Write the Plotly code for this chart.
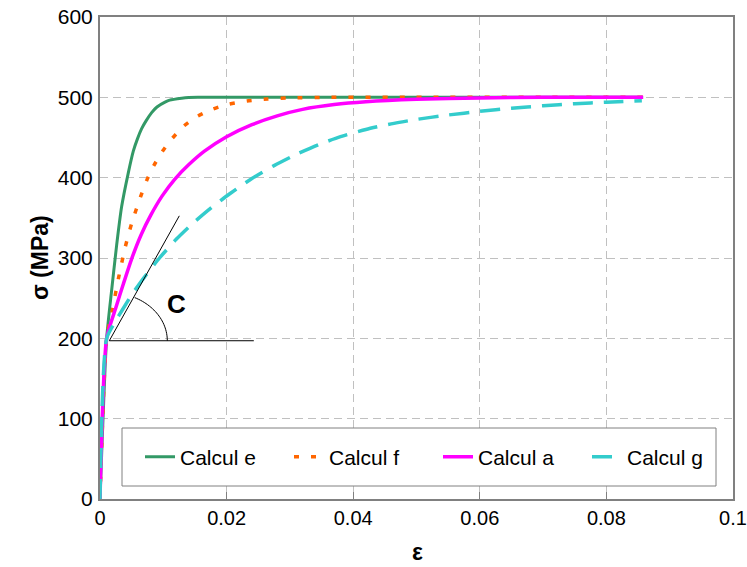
import numpy as np
import plotly.graph_objects as go

# ---- data ----
eps_e = [0, 0.00105, 0.00184, 0.00263, 0.00342, 0.00447, 0.00526, 0.0059, 0.00658, 0.0073, 0.00816, 0.0090, 0.01027, 0.0110, 0.0129, 0.0140, 0.0155, 0.02, 0.03, 0.04, 0.05, 0.06, 0.07, 0.08, 0.0858]
sig_e = [0, 200, 260, 316, 364, 406, 433, 448, 461, 471, 481, 488, 494, 496.5, 499, 499.8, 500, 500, 500, 500, 500, 500, 500, 500, 500]

eps_f = [0, 0.00105, 0.0019, 0.0029, 0.0040, 0.0050, 0.0064, 0.0074, 0.0085, 0.0098, 0.0111, 0.0132, 0.0153, 0.0177, 0.0201, 0.0232, 0.0265, 0.0300, 0.0360, 0.0500, 0.0700, 0.0858]
sig_f = [0, 200, 233, 274, 314, 343, 376, 397, 415, 432, 446, 464, 476, 485, 491, 495.5, 498, 499.3, 500, 500, 500, 500]

eps_a = [0, 0.00105, 0.0025, 0.0037, 0.0050, 0.0065, 0.0080, 0.0098, 0.0118, 0.0140, 0.0165, 0.0200, 0.0240, 0.0280, 0.0320, 0.0370, 0.0420, 0.0500, 0.0600, 0.0700, 0.0858]
sig_a = [0, 200, 238, 268, 299, 329, 353, 377, 398, 416, 433, 451, 466, 477, 485, 491, 494.5, 497.5, 499.3, 500, 500]

eps_g = [0, 0.00105, 0.0025, 0.0035, 0.0050, 0.0069, 0.0094, 0.0120, 0.0145, 0.0175, 0.0205, 0.0240, 0.0275, 0.0310, 0.0345, 0.0380, 0.0420, 0.0460, 0.0500, 0.0550, 0.0600, 0.0650, 0.0700, 0.0750, 0.0800, 0.0856]
sig_g = [0, 200, 222, 235, 254, 275, 300, 323, 342, 362, 380, 399, 415, 429, 441, 451, 460, 467, 472.5, 478, 482.5, 486.5, 489.5, 492, 494, 495.8]

series_names = ["Calcul e", "Calcul f", "Calcul a", "Calcul g"]
x_ticks = [0, 0.02, 0.04, 0.06, 0.08, 0.1]
x_tick_text = ["0", "0.02", "0.04", "0.06", "0.08", "0.1"]
y_ticks = [0, 100, 200, 300, 400, 500, 600]

# annotation geometry (slope C construction)
tan_x = [0.00147, 0.01253]
tan_y = [197, 352.5]
hor_x = [0.00147, 0.0243]
hor_y = [197, 197]

FONT = "Arial, Liberation Sans, sans-serif"

L, R, T, B = 100, 14, 17, 68
W, H = 747, 567
pw, ph = W - L - R, H - T - B

fig = go.Figure()

styles = [
    dict(color="#339966", width=3, dash="solid", shape="spline", smoothing=0.6),
    dict(color="#FF6600", width=3.5, dash="5px,12px", shape="spline", smoothing=0.6),
    dict(color="#FF00FF", width=3.5, dash="solid", shape="spline", smoothing=0.6),
    dict(color="#33CCCC", width=3.5, dash="20px,11px", shape="spline", smoothing=0.6),
]
for xs, ys, name, st in zip([eps_e, eps_f, eps_a, eps_g], [sig_e, sig_f, sig_a, sig_g], series_names, styles):
    fig.add_trace(go.Scatter(x=xs, y=ys, mode="lines", name=name, line=st))

# tangent and horizontal lines
fig.add_shape(type="line", x0=tan_x[0], y0=tan_y[0], x1=tan_x[1], y1=tan_y[1],
              line=dict(color="black", width=1))
fig.add_shape(type="line", x0=hor_x[0], y0=hor_y[0], x1=hor_x[1], y1=hor_y[1],
              line=dict(color="black", width=1))

# arc (drawn in pixel space, converted to data coordinates)
def px2data(px, py):
    return (px - L) / pw * 0.1, (T + ph - py) / ph * 600

cx_px = L + tan_x[0] / 0.1 * pw
cy_px = T + ph - tan_y[0] / 600 * ph
t = np.radians(np.linspace(0, 64, 30))
ax_, ay_ = px2data(cx_px + 58 * np.cos(t), cy_px - 48 * np.sin(t))
path = "M " + " L ".join(f"{a:.6f},{b:.3f}" for a, b in zip(ax_, ay_))
fig.add_shape(type="path", path=path, line=dict(color="black", width=1))

fig.add_annotation(x=0.01215, y=243, text="<b>C</b>", showarrow=False,
                   xanchor="center", yanchor="middle",
                   font=dict(family=FONT, size=26, color="black"))

# legend box
lx0, lx1 = 122, 716
ly0, ly1 = 428, 486
fig.add_shape(type="rect", xref="paper", yref="paper",
              x0=(lx0 - L) / pw, x1=(lx1 - L) / pw,
              y0=(T + ph - ly1) / ph, y1=(T + ph - ly0) / ph,
              line=dict(color="#808080", width=1), fillcolor="white", layer="above")

fig.update_layout(
    width=W, height=H,
    margin=dict(l=L, r=R, t=T, b=B, autoexpand=False),
    plot_bgcolor="white", paper_bgcolor="white",
    font=dict(family=FONT, size=21, color="black"),
    showlegend=True,
    legend=dict(orientation="h", x=(140 - L) / pw, y=(T + ph - 457) / ph,
                xanchor="left", yanchor="middle",
                entrywidth=104, entrywidthmode="pixels",
                bgcolor="rgba(0,0,0,0)", borderwidth=0,
                font=dict(family=FONT, size=21, color="black")),
    xaxis=dict(range=[0, 0.1], tickvals=x_ticks, ticktext=x_tick_text, automargin=False,
               showline=True, linecolor="#808080", linewidth=2, mirror=True,
               showgrid=True, gridcolor="#C0C0C0", griddash="8px,5px", gridwidth=1,
               ticks="inside", ticklen=7, tickcolor="#808080", tickwidth=1,
               tickfont=dict(family=FONT, size=20, color="black"),
               zeroline=False, ticklabelstandoff=0, ticklabeloverflow="allow"),
    yaxis=dict(range=[0, 600], tickvals=y_ticks, automargin=False,
               showline=True, linecolor="#808080", linewidth=2, mirror=True,
               showgrid=True, gridcolor="#C0C0C0", griddash="8px,5px", gridwidth=1,
               ticks="", zeroline=False, ticklabelstandoff=1, ticklabeloverflow="allow"),
)

fig.add_annotation(xref="paper", yref="paper", x=(40 - L) / pw, y=(T + ph - 258) / ph,
                   xanchor="center", yanchor="middle",
                   text="<b>σ (MPa)</b>", textangle=-90, showarrow=False,
                   font=dict(family=FONT, size=23, color="black"))
fig.add_annotation(xref="paper", yref="paper", x=(417 - L) / pw, y=(T + ph - 552) / ph,
                   xanchor="center", yanchor="middle",
                   text="<b>ε</b>", showarrow=False,
                   font=dict(family=FONT, size=23, color="black"))

fig.write_html("out.html", config={"displayModeBar": False},
               post_script="document.body.style.margin='0';document.body.style.overflow='hidden';")
